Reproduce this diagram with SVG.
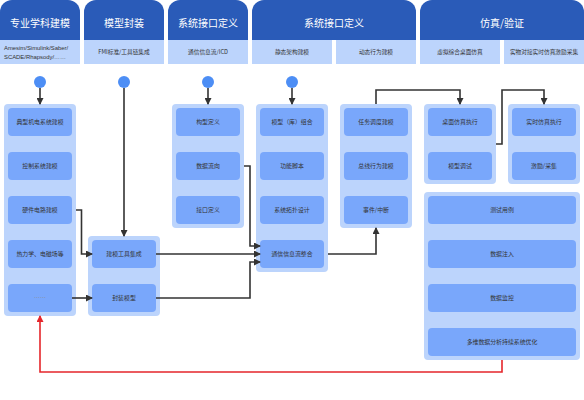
<svg xmlns="http://www.w3.org/2000/svg" width="584" height="400" viewBox="0 0 584 400">
<defs>
<style>
.hd{fill:#2a5bb8}
.sub{fill:#bcd4fc}
.box{fill:#bcd4fc}
.nd{fill:#79a7fb}
.ht{font-family:"Noto Sans CJK SC","Liberation Sans",sans-serif;font-size:10px;fill:#ffffff;text-anchor:middle}
.st{font-family:"Noto Sans CJK SC","Liberation Sans",sans-serif;font-size:5.7px;fill:#333;text-anchor:middle}
.lt{font-family:"Liberation Sans","Noto Sans CJK SC",sans-serif;font-size:5.9px;fill:#333;text-anchor:start}
.nt{font-family:"Noto Sans CJK SC","Liberation Sans",sans-serif;font-size:5.9px;fill:#333;text-anchor:middle}
.dot{fill:#4d8ef5}
.ln{fill:none;stroke:#333;stroke-width:1.6;marker-end:url(#ah)}
.red{fill:none;stroke:#e5262b;stroke-width:1.6;marker-end:url(#ahr)}
</style>
<marker id="ah" markerUnits="userSpaceOnUse" markerWidth="7" markerHeight="7" refX="6" refY="3.5" orient="auto"><path d="M0,0 L7,3.5 L0,7 z" fill="#333"/></marker>
<marker id="ahr" markerUnits="userSpaceOnUse" markerWidth="7" markerHeight="7" refX="6" refY="3.5" orient="auto"><path d="M0,0 L7,3.5 L0,7 z" fill="#e5262b"/></marker>
</defs>
<rect width="584" height="400" fill="#ffffff"/>

<g id="headers">
<path class="hd" d="M0,40 V12 A12,12 0 0 1 12,0 H68 A12,12 0 0 1 80,12 V40 Z"/>
<rect class="sub" x="0" y="40" width="80" height="24"/>
<text class="ht" x="40" y="26.5">专业学科建模</text>
<text class="lt" x="4" y="50.3">Amesim/Simulink/Saber/</text>
<text class="lt" x="4" y="59.3">SCADE/Rhapsody/……</text>

<path class="hd" d="M84,40 V12 A12,12 0 0 1 96,0 H152 A12,12 0 0 1 164,12 V40 Z"/>
<rect class="sub" x="84" y="40" width="80" height="24"/>
<text class="ht" x="124" y="26.5">模型封装</text>
<text class="st" x="124" y="54">FMI标准/工具链集成</text>

<path class="hd" d="M168,40 V12 A12,12 0 0 1 180,0 H236 A12,12 0 0 1 248,12 V40 Z"/>
<rect class="sub" x="168" y="40" width="80" height="24"/>
<text class="ht" x="208" y="26.5">系统接口定义</text>
<text class="st" x="208" y="54">通信信息流/ICD</text>

<path class="hd" d="M252,40 V12 A12,12 0 0 1 264,0 H404 A12,12 0 0 1 416,12 V40 Z"/>
<rect class="sub" x="252" y="40" width="80" height="24"/>
<rect class="sub" x="336" y="40" width="80" height="24"/>
<text class="ht" x="334" y="26.5">系统接口定义</text>
<text class="st" x="292" y="54">静态架构建模</text>
<text class="st" x="376" y="54">动态行为建模</text>

<path class="hd" d="M420,40 V12 A12,12 0 0 1 432,0 H572 A12,12 0 0 1 584,12 V40 Z"/>
<rect class="sub" x="420" y="40" width="80" height="24"/>
<rect class="sub" x="504" y="40" width="80" height="24"/>
<text class="ht" x="502" y="26.5">仿真/验证</text>
<text class="st" x="460" y="54">虚拟综合桌面仿真</text>
<text class="st" x="544" y="54">实物对接实时仿真激励采集</text>
</g>

<g id="starts">
<circle class="dot" cx="40" cy="82" r="6"/>
<circle class="dot" cx="124" cy="82" r="6"/>
<circle class="dot" cx="208" cy="82" r="6"/>
<circle class="dot" cx="292" cy="82" r="6"/>
</g>

<g id="col1">
<rect class="box" x="4" y="104" width="72" height="212" rx="4"/>
<rect class="nd" x="8" y="108" width="64" height="28" rx="4"/>
<text class="nt" x="40" y="124">典型机电系统建模</text>
<rect class="nd" x="8" y="152" width="64" height="28" rx="4"/>
<text class="nt" x="40" y="168">控制系统建模</text>
<rect class="nd" x="8" y="196" width="64" height="28" rx="4"/>
<text class="nt" x="40" y="212">硬件电路建模</text>
<rect class="nd" x="8" y="240" width="64" height="28" rx="4"/>
<text class="nt" x="40" y="256">热力学、电磁场等</text>
<rect class="nd" x="8" y="284" width="64" height="28" rx="4"/>
<text class="nt" x="40" y="300" style="fill:#8a8f99">……</text>
</g>

<g id="col2">
<rect class="box" x="88" y="236" width="72" height="80" rx="4"/>
<rect class="nd" x="92" y="240" width="64" height="28" rx="4"/>
<text class="nt" x="124" y="256">建模工具集成</text>
<rect class="nd" x="92" y="284" width="64" height="28" rx="4"/>
<text class="nt" x="124" y="300">封装模型</text>
</g>

<g id="col3">
<rect class="box" x="172" y="104" width="72" height="124" rx="4"/>
<rect class="nd" x="176" y="108" width="64" height="28" rx="4"/>
<text class="nt" x="208" y="124">构型定义</text>
<rect class="nd" x="176" y="152" width="64" height="28" rx="4"/>
<text class="nt" x="208" y="168">数据流向</text>
<rect class="nd" x="176" y="196" width="64" height="28" rx="4"/>
<text class="nt" x="208" y="212">接口定义</text>
</g>

<g id="col4">
<rect class="box" x="256" y="104" width="72" height="168" rx="4"/>
<rect class="nd" x="260" y="108" width="64" height="28" rx="4"/>
<text class="nt" x="292" y="124">模型（库）组合</text>
<rect class="nd" x="260" y="152" width="64" height="28" rx="4"/>
<text class="nt" x="292" y="168">功能脚本</text>
<rect class="nd" x="260" y="196" width="64" height="28" rx="4"/>
<text class="nt" x="292" y="212">系统拓扑设计</text>
<rect class="nd" x="260" y="240" width="64" height="28" rx="4"/>
<text class="nt" x="292" y="256">通信信息流整合</text>
</g>

<g id="col5">
<rect class="box" x="340" y="104" width="72" height="124" rx="4"/>
<rect class="nd" x="344" y="108" width="64" height="28" rx="4"/>
<text class="nt" x="376" y="124">任务调度建模</text>
<rect class="nd" x="344" y="152" width="64" height="28" rx="4"/>
<text class="nt" x="376" y="168">总线行为建模</text>
<rect class="nd" x="344" y="196" width="64" height="28" rx="4"/>
<text class="nt" x="376" y="212">事件/中断</text>
</g>

<g id="col6">
<rect class="box" x="424" y="104" width="72" height="80" rx="4"/>
<rect class="nd" x="428" y="108" width="64" height="28" rx="4"/>
<text class="nt" x="460" y="124">桌面仿真执行</text>
<rect class="nd" x="428" y="152" width="64" height="28" rx="4"/>
<text class="nt" x="460" y="168">模型调试</text>
</g>

<g id="col7">
<rect class="box" x="508" y="104" width="72" height="80" rx="4"/>
<rect class="nd" x="512" y="108" width="64" height="28" rx="4"/>
<text class="nt" x="544" y="124">实时仿真执行</text>
<rect class="nd" x="512" y="152" width="64" height="28" rx="4"/>
<text class="nt" x="544" y="168">激励/采集</text>
</g>

<g id="col8">
<rect class="box" x="424" y="192" width="156" height="168" rx="4"/>
<rect class="nd" x="428" y="196" width="148" height="28" rx="4"/>
<text class="nt" x="502" y="212">测试用例</text>
<rect class="nd" x="428" y="240" width="148" height="28" rx="4"/>
<text class="nt" x="502" y="256">数据注入</text>
<rect class="nd" x="428" y="284" width="148" height="28" rx="4"/>
<text class="nt" x="502" y="300">数据监控</text>
<rect class="nd" x="428" y="328" width="148" height="28" rx="4"/>
<text class="nt" x="502" y="344">多维数据分析持续系统优化</text>
</g>

<g id="connectors">
<path class="ln" d="M40,88 V104"/>
<path class="ln" d="M124,88 V236"/>
<path class="ln" d="M208,88 V104"/>
<path class="ln" d="M292,88 V104"/>
<path class="ln" d="M76,210 H81.5 V254 H92"/>
<path class="ln" d="M72,298 H92"/>
<path class="ln" d="M156,254 H260"/>
<path class="ln" d="M156,298 H250 V262 H260"/>
<path class="ln" d="M244,166 H250 V246 H260"/>
<path class="ln" d="M328,254 H376 V228"/>
<path class="ln" d="M376,104 V90 H460 V104"/>
<path class="ln" d="M496,144 H502 V90 H544 V104"/>
<path class="red" d="M502,360 V372 H40 V316"/>
</g>
</svg>
